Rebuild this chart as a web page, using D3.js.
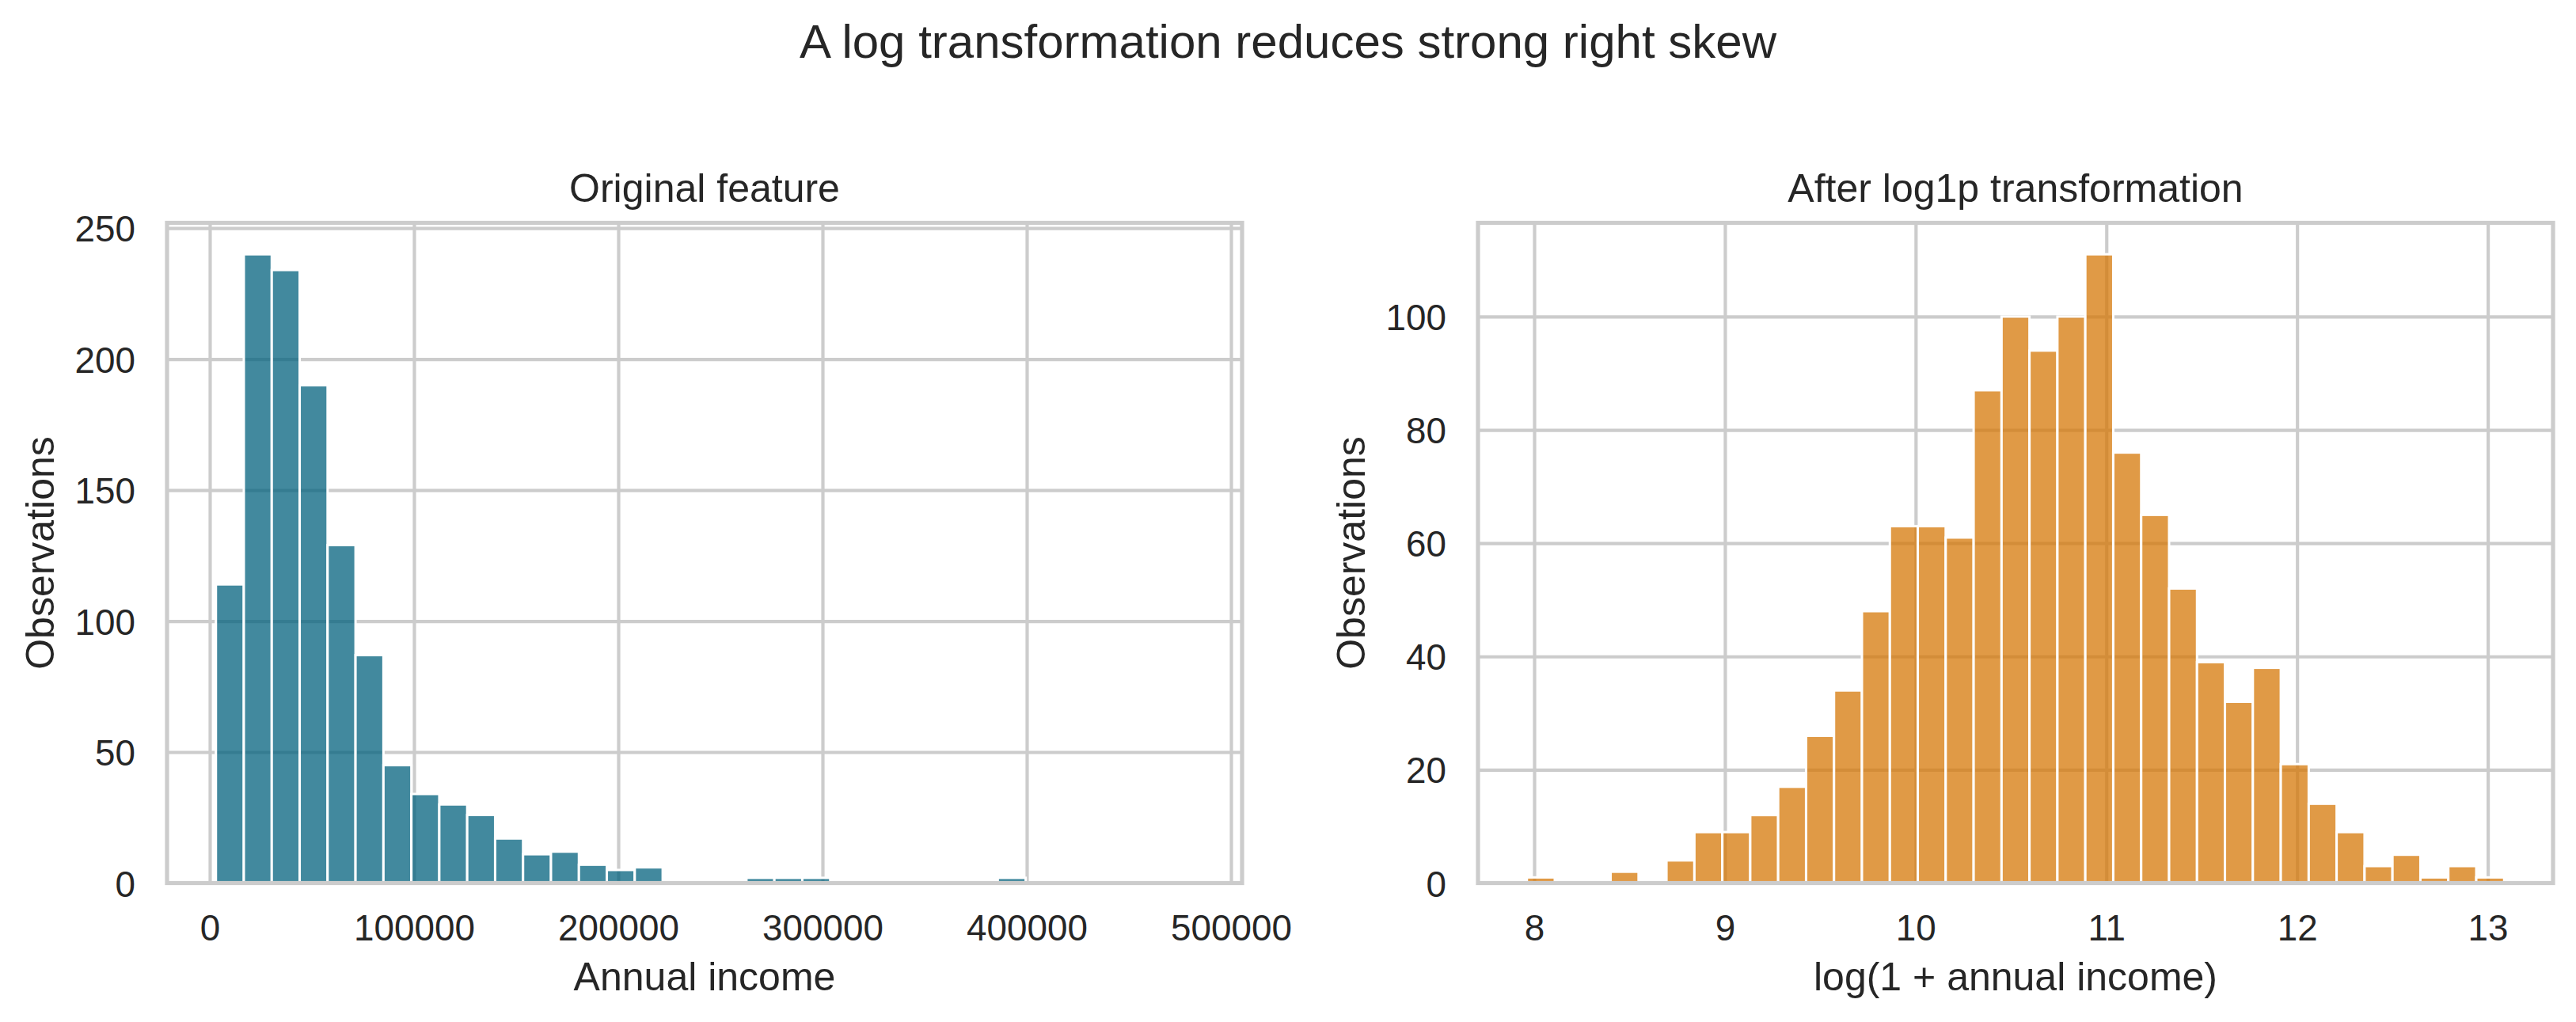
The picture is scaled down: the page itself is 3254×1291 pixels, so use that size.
<!DOCTYPE html>
<html>
<head>
<meta charset="utf-8">
<script src="https://cdn.jsdelivr.net/npm/d3@7/dist/d3.min.js"></script>
<style>
  body { margin: 0; background: #fff; }
  svg { display: block; }
  text { font-family: "Liberation Sans", Arial, sans-serif; fill: #262626; }
</style>
</head>
<body>
<svg id="chart" width="3254" height="1291"></svg>
<script>
// Histogram bins (35 bins per panel)
var incomeBinStart = 3000;
var incomeBinWidth = 13671.43;
var incomeCounts = [114, 240, 234, 190, 129, 87, 45, 34, 30, 26, 17, 11, 12, 7, 5, 6, 0, 0, 0,
  2, 2, 2, 0, 0, 0, 0, 0, 0, 2, 0, 0, 0, 0, 0, 0];
var incomeTicks = [0, 100000, 200000, 300000, 400000, 500000];
var incomeCountTicks = [0, 50, 100, 150, 200, 250];

var logBinStart = 7.9615;
var logBinWidth = 0.14641;
var logCounts = [1, 0, 0, 2, 0, 4, 9, 9, 12, 17, 26, 34, 48, 63, 63, 61, 87, 100, 94, 100,
  111, 76, 65, 52, 39, 32, 38, 21, 14, 9, 3, 5, 1, 3, 1];
var logTicks = [8, 9, 10, 11, 12, 13];
var logCountTicks = [0, 20, 40, 60, 80, 100];

var panels = [
  { title: 'Original feature', xlabel: 'Annual income', color: '#03627e',
    start: incomeBinStart, width: incomeBinWidth, counts: incomeCounts,
    xTicks: incomeTicks, yTicks: incomeCountTicks, left: 211, right: 1569 },
  { title: 'After log1p transformation', xlabel: 'log(1 + annual income)', color: '#d67808',
    start: logBinStart, width: logBinWidth, counts: logCounts,
    xTicks: logTicks, yTicks: logCountTicks, left: 1867, right: 3225 }
];

var axTop = 281.5, axBottom = 1115.5;
var svg = d3.select('#chart');

svg.append('text')
  .attr('x', 1627).attr('y', 73)
  .attr('text-anchor', 'middle')
  .style('font-size', '60px')
  .text('A log transformation reduces strong right skew');

panels.forEach(function (p) {
  var n = p.counts.length;
  var lo = p.start, hi = p.start + n * p.width;
  var m = (hi - lo) * 0.05;
  var x = d3.scaleLinear().domain([lo - m, hi + m]).range([p.left, p.right]);
  var y = d3.scaleLinear().domain([0, d3.max(p.counts) * 1.05]).range([axBottom, axTop]);
  var w = p.right - p.left, h = axBottom - axTop;

  var g = svg.append('g');

  // grid (below bars)
  var gx = g.append('g').attr('transform', 'translate(0,' + axBottom + ')')
    .call(d3.axisBottom(x).tickValues(p.xTicks).tickSize(-h).tickFormat(''));
  var gy = g.append('g').attr('transform', 'translate(' + p.left + ',0)')
    .call(d3.axisLeft(y).tickValues(p.yTicks).tickSize(-w).tickFormat(''));
  [gx, gy].forEach(function (a) {
    a.select('.domain').remove();
    a.selectAll('line').attr('stroke', '#cccccc').attr('stroke-width', 4.17);
  });

  // bars
  var bins = p.counts.map(function (c, i) {
    return { x0: p.start + i * p.width, x1: p.start + (i + 1) * p.width, count: c };
  }).filter(function (b) { return b.count > 0; });

  g.selectAll('rect.bar').data(bins).enter().append('rect')
    .attr('class', 'bar')
    .attr('x', function (d) { return x(d.x0); })
    .attr('width', function (d) { return x(d.x1) - x(d.x0); })
    .attr('y', function (d) { return y(d.count); })
    .attr('height', function (d) { return y(0) - y(d.count); })
    .attr('fill', p.color).attr('fill-opacity', 0.75)
    .attr('stroke', '#ffffff').attr('stroke-width', 3);

  // spines
  g.append('rect')
    .attr('x', p.left).attr('y', axTop).attr('width', w).attr('height', h)
    .attr('fill', 'none').attr('stroke', '#cccccc').attr('stroke-width', 5.2);

  // tick labels
  var ax = g.append('g').attr('transform', 'translate(0,' + axBottom + ')')
    .call(d3.axisBottom(x).tickValues(p.xTicks).tickSize(0).tickPadding(40).tickFormat(d3.format('d')));
  var ay = g.append('g').attr('transform', 'translate(' + p.left + ',0)')
    .call(d3.axisLeft(y).tickValues(p.yTicks).tickSize(0).tickPadding(40).tickFormat(d3.format('d')));
  [ax, ay].forEach(function (a) {
    a.select('.domain').remove();
    a.selectAll('text').style('font-size', '45.8px').style('font-family', null).attr('fill', '#262626');
  });
  ay.selectAll('text').attr('dy', '0.36em');

  // titles and labels
  g.append('text')
    .attr('x', (p.left + p.right) / 2).attr('y', 255)
    .attr('text-anchor', 'middle').style('font-size', '50px')
    .text(p.title);
  g.append('text')
    .attr('x', (p.left + p.right) / 2).attr('y', 1251)
    .attr('text-anchor', 'middle').style('font-size', '50px')
    .text(p.xlabel);
  g.append('text')
    .attr('transform', 'translate(' + (p.left - 143) + ',' + ((axTop + axBottom) / 2) + ') rotate(-90)')
    .attr('text-anchor', 'middle').style('font-size', '50px')
    .text('Observations');
});
</script>
</body>
</html>
